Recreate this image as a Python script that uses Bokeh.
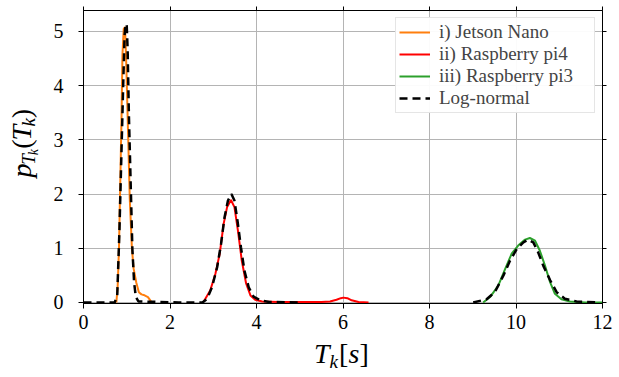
from math import pi
from bokeh.plotting import figure
from bokeh.layouts import row, column
from bokeh.models import (Range1d, FixedTicker, LinearAxis, Legend, LegendItem)
from bokeh.core.properties import value
from bokeh.embed import file_html
from bokeh.resources import INLINE

# ---------------- data ----------------
x_ticks = [0, 2, 4, 6, 8, 10, 12]
y_ticks = [0, 1, 2, 3, 4, 5]

# i) Jetson Nano (empirical)
jn_x = [0.76, 0.79, 0.82, 0.85, 0.88, 0.90, 0.93, 0.96, 0.99, 1.03, 1.07,
        1.12, 1.16, 1.22, 1.28, 1.34, 1.39, 1.49, 1.56, 1.59]
jn_y = [0.00, 0.30, 0.99, 2.22, 3.45, 4.56, 5.05, 5.08, 4.37, 3.14, 1.91,
        0.99, 0.62, 0.37, 0.19, 0.15, 0.14, 0.10, 0.02, 0.00]

# ii) Raspberry pi4 (empirical)
p4_x = [2.78, 2.93, 3.05, 3.15, 3.24, 3.32, 3.41, 3.49, 3.57, 3.66, 3.76,
        3.86, 3.97, 4.13, 4.50, 5.00, 5.50, 5.70, 5.85, 5.95, 6.01, 6.10,
        6.20, 6.36, 6.59]
p4_y = [0.02, 0.22, 0.53, 0.90, 1.45, 1.76, 1.89, 1.76, 1.33, 0.77, 0.35,
        0.13, 0.05, 0.02, 0.01, 0.01, 0.01, 0.02, 0.05, 0.08, 0.09, 0.08,
        0.04, 0.01, 0.00]

# iii) Raspberry pi3 (empirical)
p3_x = [9.24, 9.40, 9.59, 9.75, 9.90, 10.05, 10.21, 10.32, 10.44, 10.55,
        10.67, 10.79, 10.90, 11.05, 11.25, 11.60, 12.40]
p3_y = [0.00, 0.10, 0.31, 0.62, 0.90, 1.05, 1.16, 1.19, 1.14, 0.96,
        0.68, 0.37, 0.16, 0.06, 0.02, 0.00, 0.00]

# Log-normal fits
ln1_x = [0.00, 0.72, 0.78, 0.83, 0.88, 0.92, 0.95, 0.97, 0.99, 1.00, 1.02,
         1.05, 1.09, 1.13, 1.17, 1.21, 1.27, 2.20]
ln1_y = [0.00, 0.00, 0.13, 1.30, 2.84, 4.07, 4.93, 5.10, 5.14, 5.10, 4.68,
         3.45, 2.22, 0.99, 0.37, 0.10, 0.02, 0.00]

ln2_x = [2.20, 2.75, 2.86, 2.97, 3.09, 3.18, 3.26, 3.34, 3.42, 3.49, 3.56,
         3.64, 3.72, 3.82, 3.93, 4.09, 4.30, 5.00]
ln2_y = [0.00, 0.00, 0.07, 0.28, 0.65, 1.08, 1.57, 1.88, 2.00, 1.88, 1.51,
         1.02, 0.59, 0.28, 0.11, 0.04, 0.01, 0.00]

ln3_x = [9.01, 9.32, 9.51, 9.71, 9.86, 10.02, 10.17, 10.28, 10.40, 10.51,
         10.63, 10.79, 10.94, 11.13, 11.40, 11.90]
ln3_y = [0.00, 0.06, 0.19, 0.50, 0.77, 0.99, 1.11, 1.16, 1.11, 0.93,
         0.68, 0.41, 0.19, 0.07, 0.02, 0.00]

legend_labels = ["i) Jetson Nano", "ii) Raspberry pi4", "iii) Raspberry pi3",
                 "Log-normal"]
colors = ["#ff7f0e", "#ff0000", "#2ca02c", "black"]

SERIF = "Liberation Serif, DejaVu Serif"

# layout sizes (page pixels)
YLAB_W = 40
MAIN_W = 577
MAIN_H = 337
XLAB_H = 38
TOTAL_H = MAIN_H + XLAB_H

# ---------------- main figure ----------------
p = figure(width=MAIN_W, height=MAIN_H, output_backend="svg",
           toolbar_location=None,
           x_range=Range1d(0, 12), y_range=Range1d(-0.0185, 5.387),
           min_border_left=43, min_border_right=15, min_border_top=10,
           min_border_bottom=MAIN_H - 303)
p.background_fill_color = "white"
p.border_fill_color = "white"
p.outline_line_color = "black"
p.outline_line_width = 1

for ax, ticks in ((p.xaxis[0], x_ticks), (p.yaxis[0], y_ticks)):
    ax.ticker = FixedTicker(ticks=ticks)
    ax.major_label_text_font = SERIF
    ax.major_label_text_font_size = "20px"
    ax.major_label_text_color = "black"
    ax.axis_line_color = "black"
    ax.major_tick_line_color = "black"
    ax.major_tick_out = 5
    ax.major_tick_in = 0
    ax.minor_tick_out = 0
    ax.minor_tick_in = 0
p.xaxis.major_label_standoff = 6
p.yaxis.major_label_standoff = 15

for loc, ticks in (("above", x_ticks), ("right", y_ticks)):
    ax = LinearAxis(ticker=FixedTicker(ticks=ticks),
                    major_label_overrides={t: "" for t in ticks},
                    major_label_text_font_size="0px", major_label_standoff=0,
                    major_tick_out=4, major_tick_in=0,
                    minor_tick_out=0, minor_tick_in=0,
                    axis_line_color="black", major_tick_line_color="black")
    p.add_layout(ax, loc)

p.xgrid.ticker = FixedTicker(ticks=x_ticks)
p.ygrid.ticker = FixedTicker(ticks=y_ticks)
for g in (p.xgrid[0], p.ygrid[0]):
    g.grid_line_color = "#b4b4b4"
    g.grid_line_width = 1

# empirical curves
r_jn = p.line(jn_x, jn_y, line_color=colors[0], line_width=2)
r_p4 = p.line(p4_x, p4_y, line_color=colors[1], line_width=2)
r_p3 = p.line(p3_x, p3_y, line_color=colors[2], line_width=2)

# log-normal fits (dashed, on top)
r_ln12 = p.line(ln1_x + ln2_x, ln1_y + ln2_y, line_color="black",
                line_width=2.5, line_dash="8 5")
r_ln3 = p.line(ln3_x, ln3_y, line_color="black", line_width=2.5,
               line_dash="8 5")

legend = Legend(items=[
    LegendItem(label=legend_labels[0], renderers=[r_jn]),
    LegendItem(label=legend_labels[1], renderers=[r_p4]),
    LegendItem(label=legend_labels[2], renderers=[r_p3]),
    LegendItem(label=legend_labels[3], renderers=[r_ln12]),
], location="top_right")
legend.margin = 7
legend.padding = 3
legend.spacing = 0
legend.glyph_width = 31
legend.glyph_height = 18
legend.label_height = 18
legend.label_width = 152
legend.label_standoff = 9
legend.label_text_font = SERIF
legend.label_text_font_size = "19px"
legend.border_line_color = "#cccccc"
legend.border_line_width = 1
legend.background_fill_alpha = 0.95
p.add_layout(legend)


def label_canvas(w, h):
    f = figure(width=w, height=h, output_backend="svg", toolbar_location=None,
               x_range=Range1d(0, w), y_range=Range1d(0, h),
               x_axis_type=None, y_axis_type=None,
               min_border_left=0, min_border_right=0, min_border_top=0,
               min_border_bottom=0)
    f.grid.visible = False
    f.outline_line_color = None
    f.background_fill_color = "white"
    f.border_fill_color = "white"
    return f


MID = 0.3375  # distance baseline -> middle of text box, in em


def hpiece(f, text, x_page, base_page, size, fig_bottom_page, italic=True):
    yc = base_page - MID * size
    f.text(x=[x_page], y=[fig_bottom_page - yc], text=[text],
           text_font=value(SERIF), text_font_size=f"{size}px",
           text_font_style="italic" if italic else "normal",
           text_color="black", text_align="left", text_baseline="middle")


def vpiece(f, text, base_x_page, y_page, size, italic=True):
    xc = base_x_page - MID * size
    f.text(x=[xc], y=[f.height - y_page], text=[text],
           text_font=value(SERIF), text_font_size=f"{size}px",
           text_font_style="italic" if italic else "normal",
           text_color="black", text_align="left", text_baseline="middle",
           angle=pi / 2)


# y label: p_{T_k}(T_k)  (rotated, reading bottom to top)
ylab = label_canvas(YLAB_W, MAIN_H)
bx0, y0 = 30, 192
vpiece(ylab, "p", bx0, y0, 28)
vpiece(ylab, "T", bx0 + 4, y0 - 14.5, 19)
vpiece(ylab, "k", bx0 + 8, y0 - 25.5, 14)
vpiece(ylab, "(", bx0, y0 - 33, 28, italic=False)
vpiece(ylab, "T", bx0, y0 - 42.5, 28)
vpiece(ylab, "k", bx0 + 4.5, y0 - 58.5, 19)
vpiece(ylab, ")", bx0, y0 - 68, 28, italic=False)

# x label: T_k [s]
xlab = label_canvas(YLAB_W + MAIN_W, XLAB_H)
xb, base = 313.5, 362
hpiece(xlab, "T", xb, base, 28, TOTAL_H)
hpiece(xlab, "k", xb + 15.6, base + 5, 19, TOTAL_H)
hpiece(xlab, "[", xb + 25.0, base, 28, TOTAL_H, italic=False)
hpiece(xlab, "s", xb + 34.5, base, 28, TOTAL_H)
hpiece(xlab, "]", xb + 45.5, base, 28, TOTAL_H, italic=False)

layout = column(row(ylab, p, spacing=0), xlab, spacing=0)
open("out.html", "w").write(file_html(layout, INLINE))
